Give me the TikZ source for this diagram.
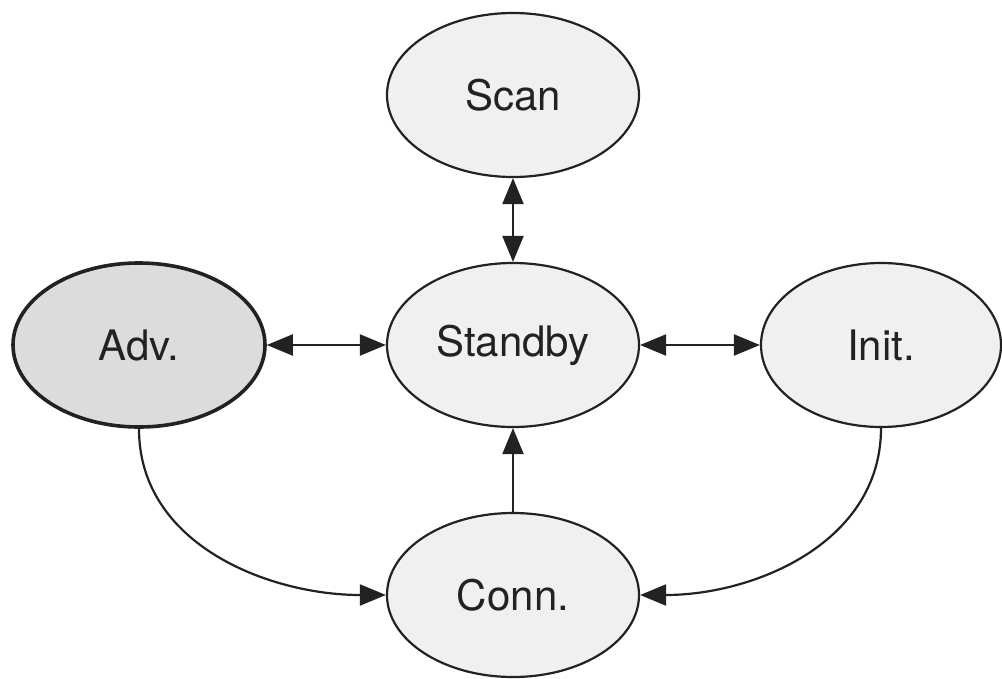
\documentclass[tikz,border=0pt]{standalone}
\usepackage{fontspec}
\setmainfont{TeX Gyre Heros}
\usetikzlibrary{arrows.meta,shapes.geometric}
\definecolor{statefill}{HTML}{F0F0F0}
\definecolor{advfill}{HTML}{DCDCDC}
\definecolor{inkline}{HTML}{222222}
\tikzset{
  state/.style={ellipse, draw=inkline, fill=statefill, line width=2.2pt,
    minimum width=252pt, minimum height=164pt, inner sep=0pt,
    font=\fontsize{42}{48}\selectfont, text=inkline},
  advstate/.style={state, fill=advfill, line width=3.6pt},
  tip/.tip={Triangle[length=26pt,width=21pt]},
  link/.style={draw=inkline, line width=2.2pt, arrows={-tip}},
  duallink/.style={link, arrows={tip-tip}}
}
\begin{document}
\begin{tikzpicture}[x=1pt,y=-1pt]
  \useasboundingbox (0,0) rectangle (1002,678);
  \node[state]    (scan)    at (513,95)  {Scan};
  \node[state]    (standby) at (513,345) {Standby};
  \node[advstate] (adv)     at (139,345) {Adv.};
  \node[state, minimum width=240pt] (init) at (881,345) {Init.};
  \node[state]    (conn)    at (513,595) {Conn.};

  \draw[duallink] (scan) -- (standby);
  \draw[duallink] (adv.east) -- (standby.west);
  \draw[duallink] (standby.east) -- (init.west);
  \draw[link] (conn) -- (standby);
  \draw[link] (adv.south) to[out=-90,in=180] (conn.west);
  \draw[link] (init.south) to[out=-90,in=0] (conn.east);
\end{tikzpicture}
\end{document}
